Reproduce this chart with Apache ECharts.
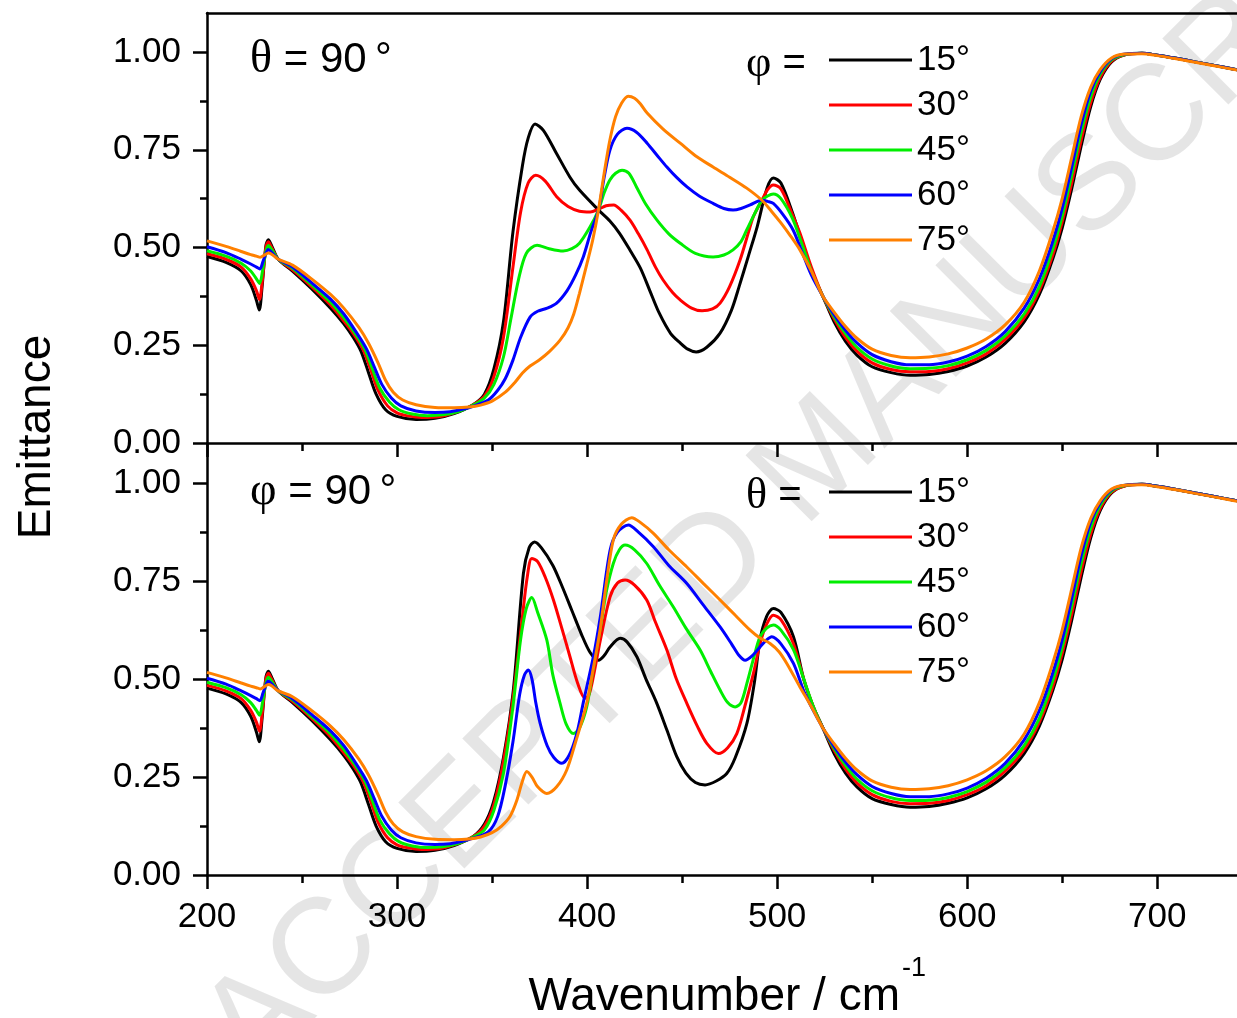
<!DOCTYPE html>
<html><head><meta charset="utf-8">
<script src="https://cdn.jsdelivr.net/npm/echarts@6/dist/echarts.min.js"></script>
<style>html,body{margin:0;padding:0;background:#fff;overflow:hidden}#c{width:1237px;height:1018px}</style>
</head><body><div id="c"></div><script>
// ---- tick values ----
const xMajor = [200, 300, 400, 500, 600, 700];
const xMinor = [250, 350, 450, 550, 650];
const yMajor = [0, 0.25, 0.5, 0.75, 1.0];
const yMinor = [0.125, 0.375, 0.625, 0.875];
const angles = ['15°', '30°', '45°', '60°', '75°'];
const colors = ['#000000', '#ff0000', '#00ee00', '#0000ff', '#ff8000'];

// ---- shared low-wavenumber parts (200-340 cm-1) ----
const left15 = [[200,0.477],[210,0.462],[218,0.44],[223,0.405],[226,0.365],[227.5,0.34],[229,0.40],[231,0.505],[232.3,0.52],[234,0.505],[237.5,0.47],[245,0.44],[255,0.395],[265,0.345],[272,0.305],[277,0.27],[281,0.235],[285,0.18],[289,0.125],[294,0.085],[300,0.068],[310,0.06],[320,0.063],[330,0.075],[340,0.098]];
const left30 = [[200,0.484],[210,0.47],[218,0.45],[223,0.42],[226,0.39],[227.6,0.367],[229,0.41],[231,0.50],[232.3,0.515],[234,0.50],[237.5,0.47],[245,0.443],[255,0.40],[265,0.353],[272,0.312],[277,0.28],[282,0.24],[286,0.19],[290,0.135],[295,0.095],[300,0.077],[305,0.07],[313,0.065],[322,0.067],[330,0.077],[340,0.098]];
const left45 = [[200,0.492],[210,0.478],[218,0.46],[223,0.44],[226,0.42],[227.7,0.408],[229.2,0.44],[231,0.49],[232.3,0.505],[234,0.495],[237.5,0.47],[245,0.447],[255,0.405],[265,0.36],[272,0.32],[278,0.28],[283,0.24],[287,0.19],[291,0.14],[296,0.105],[301,0.085],[308,0.074],[316,0.07],[324,0.072],[332,0.08],[340,0.097]];
const left60 = [[200,0.502],[210,0.487],[218,0.47],[223,0.458],[226,0.45],[227.8,0.445],[229.5,0.465],[231,0.485],[232.3,0.495],[234,0.488],[237.5,0.47],[245,0.45],[255,0.41],[265,0.368],[272,0.33],[279,0.28],[284,0.24],[288,0.195],[292,0.15],[297,0.115],[302,0.095],[310,0.082],[320,0.078],[328,0.08],[335,0.087],[340,0.094]];
const left75 = [[200,0.517],[210,0.503],[218,0.49],[223,0.482],[226,0.478],[228,0.475],[230,0.48],[232.3,0.486],[234,0.483],[237.5,0.47],[245,0.455],[255,0.42],[265,0.38],[272,0.345],[280,0.295],[285,0.255],[290,0.205],[294,0.16],[298,0.13],[303,0.11],[310,0.098],[320,0.091],[330,0.09],[338,0.092]];

// ---- shared high-wavenumber parts (530-742 cm-1) ----
const right15 = [[530,0.31],[536,0.26],[542,0.225],[550,0.195],[560,0.18],[570,0.173],[580,0.175],[590,0.183],[600,0.197],[610,0.22],[620,0.255],[630,0.31],[638,0.38],[645,0.47],[650,0.55],[655,0.65],[660,0.76],[665,0.86],[670,0.93],[676,0.975],[683,0.993],[692,0.997],[700,0.992],[710,0.984],[720,0.975],[730,0.966],[742,0.955]];
const right30 = [[530,0.318],[536,0.27],[542,0.235],[550,0.205],[560,0.188],[570,0.182],[580,0.183],[590,0.19],[600,0.205],[610,0.228],[620,0.265],[630,0.32],[638,0.39],[645,0.48],[650,0.565],[655,0.665],[660,0.775],[665,0.87],[670,0.935],[676,0.977],[683,0.993],[692,0.997],[700,0.992],[710,0.984],[720,0.975],[730,0.966],[742,0.955]];
const right45 = [[530,0.323],[536,0.28],[542,0.245],[550,0.215],[560,0.197],[570,0.19],[580,0.191],[590,0.198],[600,0.213],[610,0.237],[620,0.274],[630,0.33],[638,0.40],[645,0.495],[650,0.58],[655,0.685],[660,0.795],[665,0.885],[670,0.943],[676,0.98],[683,0.994],[692,0.997],[700,0.992],[710,0.984],[720,0.975],[730,0.966],[742,0.955]];
const right60 = [[530,0.328],[536,0.288],[542,0.256],[550,0.226],[560,0.208],[570,0.2],[580,0.2],[590,0.207],[600,0.222],[610,0.247],[620,0.285],[630,0.345],[638,0.42],[645,0.515],[650,0.6],[655,0.705],[660,0.815],[665,0.9],[670,0.95],[676,0.983],[683,0.995],[692,0.997],[700,0.992],[710,0.984],[720,0.975],[730,0.966],[742,0.955]];
const right75 = [[530,0.335],[536,0.298],[542,0.268],[550,0.24],[560,0.224],[570,0.218],[580,0.22],[590,0.228],[600,0.243],[610,0.266],[620,0.302],[630,0.36],[638,0.44],[645,0.54],[650,0.625],[655,0.73],[660,0.835],[665,0.91],[670,0.955],[676,0.985],[683,0.995],[692,0.996],[700,0.991],[710,0.983],[720,0.974],[730,0.965],[742,0.954]];

// ---- top panel (theta = 90°), middle part, per phi ----
const midTop15 = [[346,0.125],[351,0.19],[356,0.31],[361,0.54],[366,0.71],[369,0.78],[372.6,0.816],[377,0.80],[384,0.74],[391,0.68],[396,0.647],[406,0.596],[412,0.568],[417,0.537],[423,0.49],[428,0.448],[433,0.39],[438,0.332],[444,0.28],[449,0.256],[453,0.24],[457.4,0.233],[463,0.245],[470,0.281],[476,0.34],[480,0.40],[485,0.48],[489.5,0.553],[494.7,0.652],[498,0.678],[502,0.665],[508,0.59],[514,0.50],[519,0.43],[524,0.376]];
const midTop30 = [[346,0.12],[351,0.17],[356,0.27],[361,0.45],[365,0.59],[369,0.665],[373,0.685],[378,0.67],[384,0.63],[390,0.605],[396,0.593],[401.6,0.591],[406,0.598],[410,0.607],[414,0.609],[418,0.595],[422.6,0.57],[427,0.535],[431.6,0.494],[436,0.45],[440,0.417],[445,0.385],[449,0.366],[455,0.345],[460.5,0.338],[466,0.343],[470,0.358],[475,0.40],[480.5,0.468],[485,0.54],[487.4,0.578],[492,0.621],[495,0.648],[498,0.66],[502,0.65],[508,0.585],[512,0.537],[518,0.45],[524,0.376]];
const midTop45 = [[346,0.115],[351,0.15],[356,0.22],[360,0.32],[364,0.42],[368,0.485],[373.7,0.506],[380,0.497],[387.4,0.491],[392,0.497],[396,0.511],[401.6,0.553],[406,0.596],[409,0.64],[412,0.673],[415,0.69],[418.4,0.698],[422,0.69],[426,0.655],[431,0.61],[436.8,0.57],[443,0.535],[449,0.511],[457,0.485],[466.3,0.476],[472,0.481],[476.8,0.494],[481,0.515],[484,0.545],[488,0.585],[492,0.621],[495,0.632],[498,0.637],[502,0.625],[508,0.575],[513,0.51],[518,0.44],[524,0.376]];
const midTop60 = [[348,0.11],[353,0.135],[357,0.165],[361,0.212],[365,0.27],[370,0.322],[374,0.337],[379,0.345],[384,0.358],[389.5,0.39],[394,0.43],[398,0.476],[402,0.54],[406,0.596],[409,0.68],[412,0.749],[416,0.79],[421,0.805],[426,0.795],[431.6,0.767],[437,0.735],[442,0.706],[447,0.68],[452.6,0.655],[459,0.632],[466.3,0.613],[472,0.6],[476.8,0.596],[481,0.6],[485.8,0.609],[490,0.619],[492,0.621],[495,0.618],[498,0.613],[503,0.585],[508.4,0.545],[513,0.49],[518,0.43],[524,0.376]];
const midTop75 = [[344,0.097],[350,0.107],[357,0.13],[362,0.155],[366,0.179],[370,0.197],[375,0.213],[380,0.233],[385.8,0.263],[390,0.295],[393,0.33],[396,0.383],[400,0.46],[403,0.52],[406,0.596],[409,0.69],[412,0.775],[415,0.835],[418,0.868],[421.6,0.887],[425,0.882],[428,0.868],[431.6,0.844],[440,0.803],[449,0.767],[457,0.735],[466.3,0.706],[475,0.68],[484,0.652],[492,0.621],[497,0.593],[502,0.563],[507,0.53],[512,0.494],[518,0.44],[524,0.376]];

// ---- bottom panel (phi = 90°), middle part, per theta ----
const midBot15 = [[346,0.13],[350.7,0.185],[356,0.30],[361.2,0.472],[366.5,0.77],[369.5,0.835],[372.3,0.85],[376,0.835],[382,0.79],[387,0.735],[392,0.675],[397,0.615],[401.6,0.568],[406,0.548],[409,0.56],[412.1,0.582],[417.4,0.604],[421,0.595],[426.2,0.557],[431,0.5],[436.7,0.438],[442,0.37],[447.2,0.302],[452,0.26],[457,0.236],[462.1,0.23],[468,0.24],[473.5,0.259],[478,0.3],[484.1,0.387],[488,0.49],[491,0.6],[494.5,0.66],[498,0.68],[502,0.67],[508.6,0.608],[514,0.5],[519,0.43],[524,0.376]];
const midBot30 = [[346,0.125],[351,0.18],[356,0.29],[361,0.45],[366,0.66],[368.5,0.76],[370.9,0.808],[374,0.80],[378,0.76],[382.3,0.702],[387,0.625],[391,0.557],[395,0.49],[398.9,0.451],[401,0.46],[403.3,0.506],[407,0.6],[412.1,0.71],[416,0.745],[420,0.753],[425,0.74],[431.4,0.702],[436,0.645],[442,0.574],[447,0.5],[452.5,0.438],[458,0.38],[463,0.336],[469.1,0.31],[474,0.325],[478.8,0.361],[483,0.43],[487.5,0.514],[491,0.59],[494.5,0.64],[498,0.663],[502,0.652],[508.6,0.59],[514,0.5],[519,0.43],[524,0.376]];
const midBot45 = [[346,0.115],[351,0.165],[356,0.26],[361,0.43],[365,0.60],[368,0.68],[370.9,0.708],[374,0.67],[378.8,0.6],[382,0.51],[385.8,0.438],[389,0.385],[392.8,0.361],[396,0.375],[399.8,0.429],[403,0.52],[406.8,0.625],[410,0.72],[413.8,0.795],[417,0.83],[420,0.842],[425,0.83],[431.4,0.795],[438,0.74],[445.4,0.684],[452,0.63],[459.5,0.574],[465,0.52],[470,0.472],[474,0.44],[477.9,0.429],[481,0.44],[484.1,0.489],[488,0.56],[491,0.608],[494.5,0.63],[498,0.638],[502,0.625],[508.6,0.575],[514,0.5],[519,0.43],[524,0.376]];
const midBot60 = [[348,0.11],[353,0.15],[357,0.23],[361,0.34],[364.5,0.46],[367,0.51],[369.1,0.523],[371,0.50],[373,0.44],[375.3,0.387],[379,0.33],[382.5,0.3],[386.7,0.285],[390.5,0.305],[394.6,0.361],[398,0.44],[403.3,0.557],[407,0.66],[412.1,0.829],[416,0.875],[421.7,0.893],[427,0.875],[434.9,0.838],[443,0.79],[452.5,0.744],[461,0.69],[470,0.633],[476,0.59],[480,0.56],[483.2,0.548],[487,0.56],[491,0.582],[494.5,0.6],[497.2,0.608],[502,0.59],[508.6,0.54],[514,0.47],[519,0.42],[524,0.376]];
const midBot75 = [[344,0.097],[350,0.108],[355,0.125],[359.5,0.15],[363,0.19],[366,0.24],[368.3,0.264],[371,0.25],[374,0.225],[378.8,0.208],[384,0.225],[389.3,0.268],[394,0.34],[399.8,0.438],[403,0.52],[406.8,0.625],[410,0.74],[413.8,0.855],[418,0.895],[423.5,0.912],[428,0.9],[434.9,0.872],[443,0.83],[452.5,0.786],[461,0.745],[470,0.702],[478,0.663],[485.8,0.625],[491,0.605],[496.3,0.591],[501,0.57],[505.1,0.54],[512,0.48],[518,0.43],[524,0.376]];

const lefts = [left15, left30, left45, left60, left75];
const rights = [right15, right30, right45, right60, right75];
const midsTop = [midTop15, midTop30, midTop45, midTop60, midTop75];
const midsBot = [midBot15, midBot30, midBot45, midBot60, midBot75];

const SANS = 'Liberation Sans, Arial, Helvetica, sans-serif';
const SERIF = 'Liberation Serif, Times New Roman, serif';
const AX = {color: '#000', width: 2.5};

function xMainAxis(grid, showLabels) {
  return {type: 'value', gridIndex: grid, min: 200, max: 742, position: 'bottom',
    axisLine: {show: true, onZero: false, lineStyle: AX},
    axisTick: {show: true, length: 14, lineStyle: AX, customValues: xMajor},
    axisLabel: {show: showLabels, customValues: xMajor, fontSize: 35, fontFamily: SANS, color: '#000', margin: 25},
    splitLine: {show: false}};
}
function xMinorAxis(grid) {
  return {type: 'value', gridIndex: grid, min: 200, max: 742, position: 'bottom',
    axisLine: {show: false, onZero: false}, axisTick: {show: true, length: 8, lineStyle: AX, customValues: xMinor},
    axisLabel: {show: false}, splitLine: {show: false}};
}
function yMainAxis(grid) {
  return {type: 'value', gridIndex: grid, min: 0, max: 1.1, position: 'left',
    axisLine: {show: true, onZero: false, lineStyle: AX},
    axisTick: {show: true, length: 14, lineStyle: AX, customValues: yMajor},
    axisLabel: {show: true, customValues: yMajor, fontSize: 35, fontFamily: SANS, color: '#000', margin: 26,
      formatter: v => v.toFixed(2)},
    splitLine: {show: false}};
}
function yMinorAxis(grid) {
  return {type: 'value', gridIndex: grid, min: 0, max: 1.1, position: 'left',
    axisLine: {show: false, onZero: false}, axisTick: {show: true, length: 7, lineStyle: AX, customValues: yMinor},
    axisLabel: {show: false}, splitLine: {show: false}};
}

const series = [];
[midsTop, midsBot].forEach((mids, p) => {
  mids.forEach((mid, i) => {
    series.push({
      name: angles[i], type: 'line', xAxisIndex: p === 0 ? 0 : 3, yAxisIndex: p === 0 ? 0 : 2,
      data: lefts[i].concat(mid, rights[i]),
      showSymbol: false, symbol: 'none', smooth: 0.3,
      lineStyle: {width: 3, color: colors[i]}, itemStyle: {color: colors[i]},
      animation: false, z: 3
    });
  });
});

function legendAt(top) {
  return {show: true, data: angles, orient: 'vertical', left: 824, top: top,
    icon: 'rect', itemWidth: 83, itemHeight: 3, itemGap: 5,
    selectedMode: false,
    textStyle: {fontSize: 35, fontFamily: SANS, color: '#000', lineHeight: 40}};
}

const option = {
  animation: false,
  backgroundColor: '#fff',
  grid: [
    {left: 207, top: 13, width: 1030, height: 430},
    {left: 207, top: 444, width: 1030, height: 431}
  ],
  xAxis: [
    xMainAxis(0, false), xMinorAxis(0),
    {type: 'value', gridIndex: 0, min: 200, max: 742, position: 'top',
      axisLine: {show: true, onZero: false, lineStyle: AX}, axisTick: {show: false}, axisLabel: {show: false}, splitLine: {show: false}},
    xMainAxis(1, true), xMinorAxis(1)
  ],
  yAxis: [yMainAxis(0), yMinorAxis(0), yMainAxis(1), yMinorAxis(1)],
  legend: [legendAt(35), legendAt(467)],
  series: series,
  graphic: [
    {type: 'text', x: 820, y: 460, rotation: Math.PI / 4, z: -10, silent: true,
      style: {text: 'ACCEPTED MANUSCRIPT', fontSize: 136, fontFamily: SANS, fill: 'rgba(0,0,0,0.1)',
        align: 'center', verticalAlign: 'middle'}},
    {type: 'text', left: 250, top: 37,
      style: {text: '{g|θ} = 90\u2009°', fontSize: 42, fontFamily: SANS, fill: '#000',
        rich: {g: {fontSize: 46, fontFamily: SERIF}}}},
    {type: 'text', left: 250, top: 469,
      style: {text: '{g|φ} = 90\u2009°', fontSize: 42, fontFamily: SANS, fill: '#000',
        rich: {g: {fontSize: 46, fontFamily: SERIF}}}},
    {type: 'text', left: 746, top: 42,
      style: {text: '{g|φ} =', fontSize: 40, fontFamily: SANS, fill: '#000',
        rich: {g: {fontSize: 44, fontFamily: SERIF}}}},
    {type: 'text', left: 746, top: 474,
      style: {text: '{g|θ} =', fontSize: 40, fontFamily: SANS, fill: '#000',
        rich: {g: {fontSize: 44, fontFamily: SERIF}}}},
    {type: 'text', x: 37, y: 437, rotation: Math.PI / 2,
      style: {text: 'Emittance', fontSize: 46, fontFamily: SANS, fill: '#000', align: 'center', verticalAlign: 'middle'}},
    {type: 'text', x: 900, y: 997,
      style: {text: 'Wavenumber / cm', fontSize: 46, fontFamily: SANS, fill: '#000', align: 'right', verticalAlign: 'middle'}},
    {type: 'text', x: 902, y: 969,
      style: {text: '-1', fontSize: 27, fontFamily: SANS, fill: '#000', align: 'left', verticalAlign: 'middle'}}
  ]
};

const chart = echarts.init(document.getElementById('c'), null, {renderer: 'canvas'});
chart.setOption(option);
</script></body></html>
